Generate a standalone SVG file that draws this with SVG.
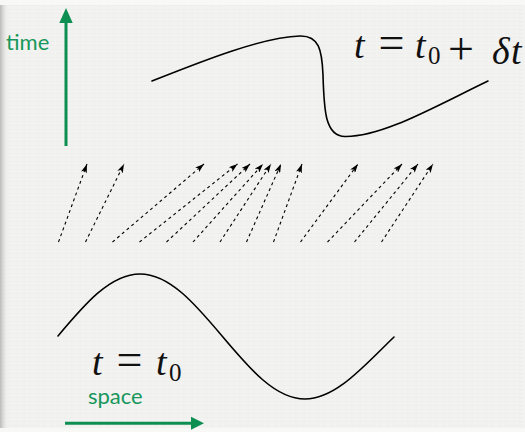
<svg xmlns="http://www.w3.org/2000/svg" width="525" height="432" viewBox="0 0 525 432">
  <defs>
    <linearGradient id="shadow" x1="0" y1="0" x2="1" y2="0">
      <stop offset="0" stop-color="#b9b9b9"/>
      <stop offset="1" stop-color="#f1f1ef" stop-opacity="0"/>
    </linearGradient>
    <pattern id="paper" width="7" height="4" patternUnits="userSpaceOnUse">
      <rect width="7" height="4" fill="#f2f2f0"/>
      <rect x="0" y="1" width="5" height="1" fill="#e6e6e4" opacity="0.45"/>
    </pattern>
    <marker id="stealth" viewBox="0 0 9 6" refX="9" refY="3" markerWidth="9" markerHeight="6" markerUnits="userSpaceOnUse" orient="auto">
      <path d="M0,0 L9,3 L0,6 L2.2,3 Z" fill="#000"/>
    </marker>
  </defs>
  <style>
    .curve { fill: none; stroke: #000; stroke-width: 1.6; stroke-linecap: round; }
    .flow { fill: none; stroke: #000; stroke-width: 1.1; stroke-dasharray: 3 3.2; marker-end: url(#stealth); }
    .axis { stroke: #0d8f52; stroke-width: 3; fill: none; }
    .axishead { fill: #0d8f52; }
    .axislabel { font-family: Lato, "Open Sans", sans-serif; font-size: 22px; fill: #17975b; }
    .math { font-family: "Liberation Serif", "Times New Roman", serif; fill: #111; }
    .it { font-style: italic; font-size: 38px; }
    .op { font-size: 46px; }
    .sub { font-size: 25px; }
  </style>

  <!-- background paper -->
  <rect x="0" y="0" width="525" height="432" fill="#f8f8f7"/>
  <rect x="0" y="5" width="525" height="423" fill="url(#paper)"/>
  <rect x="0" y="5" width="9" height="423" fill="url(#shadow)"/>

  <!-- axes -->
  <g id="time-axis">
    <line class="axis" x1="66" y1="146" x2="66" y2="20"/>
    <polygon class="axishead" points="66,8 72.7,23 59.3,23"/>
    <text class="axislabel" x="6" y="50">time</text>
  </g>
  <g id="space-axis">
    <line class="axis" x1="65" y1="423.3" x2="193" y2="423.3"/>
    <polygon class="axishead" points="204,423.3 191,416.8 191,429.8"/>
    <text class="axislabel" x="88" y="404">space</text>
  </g>

  <!-- wave at t = t0 -->
  <g id="wave-t0">
    <path class="curve" d="M58,336 C84.4,304.5 110.2,274 140,274 C169.8,274 195.6,304.5 222.5,336.5 C249.4,368.5 275.2,399 305,399 C336,399 364,366 394,337"/>
    <text class="math" y="375"><tspan class="it" x="92">t</tspan><tspan class="op" x="116.5">=</tspan><tspan class="it" x="156">t</tspan><tspan class="sub" x="169" y="381">0</tspan></text>
  </g>

  <!-- wave at t = t0 + dt -->
  <g id="wave-t1">
    <path class="curve" d="M152,81 C200,62 262,37 300,36 C319,35.5 322,50 323,75 C324,110 325,136 345,136.5 C382,137 432,108 488,81"/>
    <text class="math" y="58"><tspan class="it" x="354">t</tspan><tspan class="op" x="378.5">=</tspan><tspan class="it" x="415">t</tspan><tspan class="sub" x="428" y="64">0</tspan><tspan class="op" x="448">+</tspan><tspan class="it" x="492">δ</tspan><tspan class="it" x="511">t</tspan></text>
  </g>

  <!-- characteristic / flow connectors -->
  <g id="connectors">
    <line class="flow" x1="58.5" y1="242" x2="87" y2="164"/>
    <line class="flow" x1="85.5" y1="242" x2="124" y2="164"/>
    <line class="flow" x1="112.5" y1="242" x2="204" y2="164"/>
    <line class="flow" x1="139.5" y1="242" x2="237.5" y2="164"/>
    <line class="flow" x1="166.5" y1="242" x2="250" y2="164"/>
    <line class="flow" x1="193" y1="242" x2="263" y2="164"/>
    <line class="flow" x1="220" y1="242" x2="271" y2="164"/>
    <line class="flow" x1="246.5" y1="242" x2="281" y2="164"/>
    <line class="flow" x1="273.5" y1="242" x2="302" y2="164"/>
    <line class="flow" x1="300.5" y1="242" x2="358" y2="164"/>
    <line class="flow" x1="327.5" y1="242" x2="402" y2="164"/>
    <line class="flow" x1="354.5" y1="242" x2="418" y2="164"/>
    <line class="flow" x1="381.5" y1="242" x2="433" y2="164"/>
  </g>
</svg>
